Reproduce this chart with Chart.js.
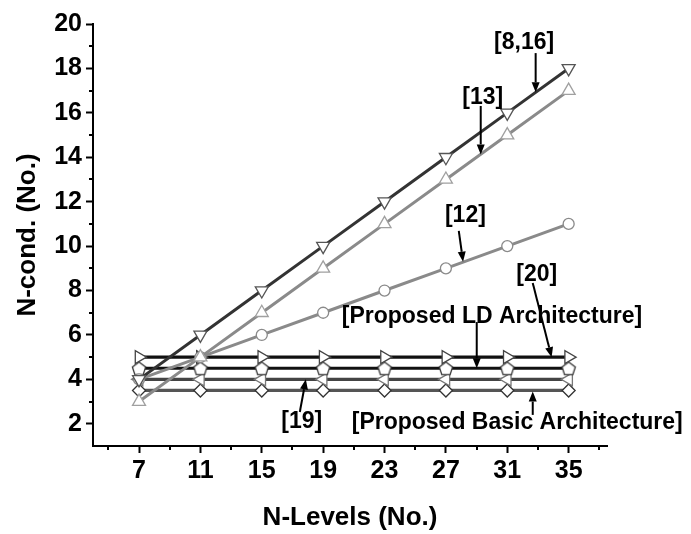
<!DOCTYPE html>
<html>
<head>
<meta charset="utf-8">
<script src="https://cdn.jsdelivr.net/npm/chart.js@4/dist/chart.umd.min.js"></script>
<style>
  html, body { margin: 0; padding: 0; background: #fff; }
  #c { display: block; }
</style>
</head>
<body>
<canvas id="c" width="691" height="534"></canvas>
<script>
// Number of output levels on the x axis
const levels = [7, 11, 15, 19, 23, 27, 31, 35];

// Number of conductors needed by each topology
const ref8_16 = [4, 6, 8, 10, 12, 14, 16, 18];
const ref13 = [3, 5, 7, 9, 11, 13, 15, 17];
const ref12 = [4, 5, 6, 7, 8, 9, 10, 11];
const ref20 = [5, 5, 5, 5, 5, 5, 5, 5];
const proposedLD = [4.5, 4.5, 4.5, 4.5, 4.5, 4.5, 4.5, 4.5];
const ref19 = [4, 4, 4, 4, 4, 4, 4, 4];
const proposedBasic = [3.5, 3.5, 3.5, 3.5, 3.5, 3.5, 3.5, 3.5];

// Axis ticks
const xTicks = [7, 11, 15, 19, 23, 27, 31, 35];
const xMinorTicks = [5, 9, 13, 17, 21, 25, 29, 33, 37];
const yTicks = [2, 4, 6, 8, 10, 12, 14, 16, 18, 20];
const yMinorTicks = [3, 5, 7, 9, 11, 13, 15, 17, 19];

// Callout labels: text centre (tx, ty) and arrow from (ax0, ay0) to tip (ax1, ay1), in data units
const calloutText = ['[8,16]', '[13]', '[12]', '[20]', '[Proposed LD Architecture]', '[19]', '[Proposed Basic Architecture]'];
const calloutAt = [[32.1, 19.15], [29.4, 16.7], [28.27, 11.36], [32.92, 8.7], [30.0, 6.81], [17.61, 2.08], [31.65, 2.04]];
const calloutArrow = [
  [32.85, 18.69, 32.85, 16.93],
  [29.27, 16.31, 29.27, 14.13],
  [27.84, 10.69, 28.12, 9.3],
  [32.66, 8.34, 33.89, 5.0],
  [29.01, 6.58, 29.01, 4.5],
  [17.48, 2.53, 17.87, 4.0],
  [32.66, 2.4, 32.66, 3.45]
];

const FONT = "'Liberation Sans', Arial, Helvetica, sans-serif";

function pentagonMarker(r, stroke) {
  const size = Math.ceil(r * 2 + 4);
  const cv = document.createElement('canvas');
  cv.width = size; cv.height = size;
  const g = cv.getContext('2d');
  const c = size / 2;
  g.beginPath();
  for (let i = 0; i < 5; i++) {
    const a = -Math.PI / 2 + i * 2 * Math.PI / 5;
    const px = c + r * Math.cos(a), py = c + r * Math.sin(a) + 0.8;
    if (i === 0) g.moveTo(px, py); else g.lineTo(px, py);
  }
  g.closePath();
  g.fillStyle = '#fff';
  g.fill();
  g.lineWidth = 1.3;
  g.strokeStyle = stroke;
  g.stroke();
  return cv;
}

function series(values) {
  return values.map((v, i) => ({ x: levels[i], y: v }));
}

function line(label, values, color, marker, markerColor, radius, rotation, width) {
  return {
    label,
    data: series(values),
    borderColor: color,
    borderWidth: width,
    pointStyle: marker,
    pointRotation: rotation,
    pointRadius: radius,
    pointBackgroundColor: '#fff',
    pointBorderColor: markerColor,
    pointBorderWidth: 1.3,
    tension: 0,
    fill: false
  };
}

const datasets = [
  line('[8,16]', ref8_16, '#333333', 'triangle', '#555555', 7.5, 180, 3),
  line('[13]', ref13, '#8a8a8a', 'triangle', '#a0a0a0', 7.5, 0, 3),
  line('[12]', ref12, '#8a8a8a', 'circle', '#8a8a8a', 5.5, 0, 3),
  line('[20]', ref20, '#111111', 'triangle', '#444444', 7.5, 90, 3.2),
  line('Proposed LD', proposedLD, '#111111', pentagonMarker(7, '#333333'), '#333333', 7, 0, 3.2),
  line('[19]', ref19, '#444444', 'triangle', '#777777', 7.5, 270, 3.2),
  line('Proposed Basic', proposedBasic, '#555555', 'rectRot', '#333333', 6.5, 0, 3.2)
];

const extrasPlugin = {
  id: 'extras',
  afterDraw(chart) {
    const { ctx, chartArea, scales } = chart;
    const xs = scales.x, ys = scales.y;
    ctx.save();
    // minor tick marks
    ctx.strokeStyle = '#000';
    ctx.lineWidth = 2;
    ctx.beginPath();
    xMinorTicks.forEach(v => {
      const px = Math.round(xs.getPixelForValue(v));
      ctx.moveTo(px, chartArea.bottom);
      ctx.lineTo(px, chartArea.bottom + 4);
    });
    yMinorTicks.forEach(v => {
      const py = Math.round(ys.getPixelForValue(v));
      ctx.moveTo(chartArea.left, py);
      ctx.lineTo(chartArea.left - 4, py);
    });
    ctx.stroke();

    // callouts
    ctx.font = 'bold 23px ' + FONT;
    ctx.fillStyle = '#000';
    ctx.textAlign = 'center';
    ctx.textBaseline = 'middle';
    calloutText.forEach((t, i) => {
      const [tx, ty] = calloutAt[i];
      ctx.fillText(t, xs.getPixelForValue(tx), ys.getPixelForValue(ty));
      const [a0, b0, a1, b1] = calloutArrow[i];
      const x0 = xs.getPixelForValue(a0), y0 = ys.getPixelForValue(b0);
      const x1 = xs.getPixelForValue(a1), y1 = ys.getPixelForValue(b1);
      const ang = Math.atan2(y1 - y0, x1 - x0);
      const headLen = 10, headHalf = 4;
      const bx = x1 - headLen * Math.cos(ang), by = y1 - headLen * Math.sin(ang);
      ctx.beginPath();
      ctx.moveTo(x0, y0);
      ctx.lineTo(bx, by);
      ctx.lineWidth = 2;
      ctx.stroke();
      ctx.beginPath();
      ctx.moveTo(x1, y1);
      ctx.lineTo(bx + headHalf * Math.sin(ang), by - headHalf * Math.cos(ang));
      ctx.lineTo(bx - headHalf * Math.sin(ang), by + headHalf * Math.cos(ang));
      ctx.closePath();
      ctx.fill();
    });
    ctx.restore();
  }
};

new Chart(document.getElementById('c'), {
  type: 'line',
  data: { datasets },
  options: {
    responsive: false,
    devicePixelRatio: 1,
    animation: false,
    layout: { padding: { top: 24, right: 84, bottom: 0, left: 0 } },
    plugins: { legend: { display: false }, tooltip: { enabled: false } },
    scales: {
      x: {
        type: 'linear',
        min: 4,
        max: 37.5,
        afterBuildTicks: s => { s.ticks = xTicks.map(v => ({ value: v })); },
        afterFit: s => { s.height = 88; },
        ticks: { color: '#000', font: { family: FONT, size: 25, weight: 'bold' }, padding: 3, maxRotation: 0, autoSkip: false },
        grid: { display: true, drawOnChartArea: false, drawTicks: true, tickLength: 7, tickWidth: 2, tickColor: '#000' },
        border: { display: true, color: '#000', width: 2 },
        title: { display: true, text: 'N-Levels (No.)', color: '#000', font: { family: FONT, size: 26, weight: 'bold' }, padding: { top: 0, bottom: 1 } }
      },
      y: {
        type: 'linear',
        min: 1,
        max: 20,
        afterBuildTicks: s => { s.ticks = yTicks.map(v => ({ value: v })); },
        afterFit: s => { s.width = 93; },
        ticks: { color: '#000', font: { family: FONT, size: 25, weight: 'bold' }, padding: 4, autoSkip: false },
        grid: { display: true, drawOnChartArea: false, drawTicks: true, tickLength: 7, tickWidth: 2, tickColor: '#000' },
        border: { display: true, color: '#000', width: 2 },
        title: { display: true, text: 'N-cond. (No.)', color: '#000', font: { family: FONT, size: 26, weight: 'bold' }, padding: { top: 12, bottom: 0 } }
      }
    }
  },
  plugins: [extrasPlugin]
});
</script>
</body>
</html>
